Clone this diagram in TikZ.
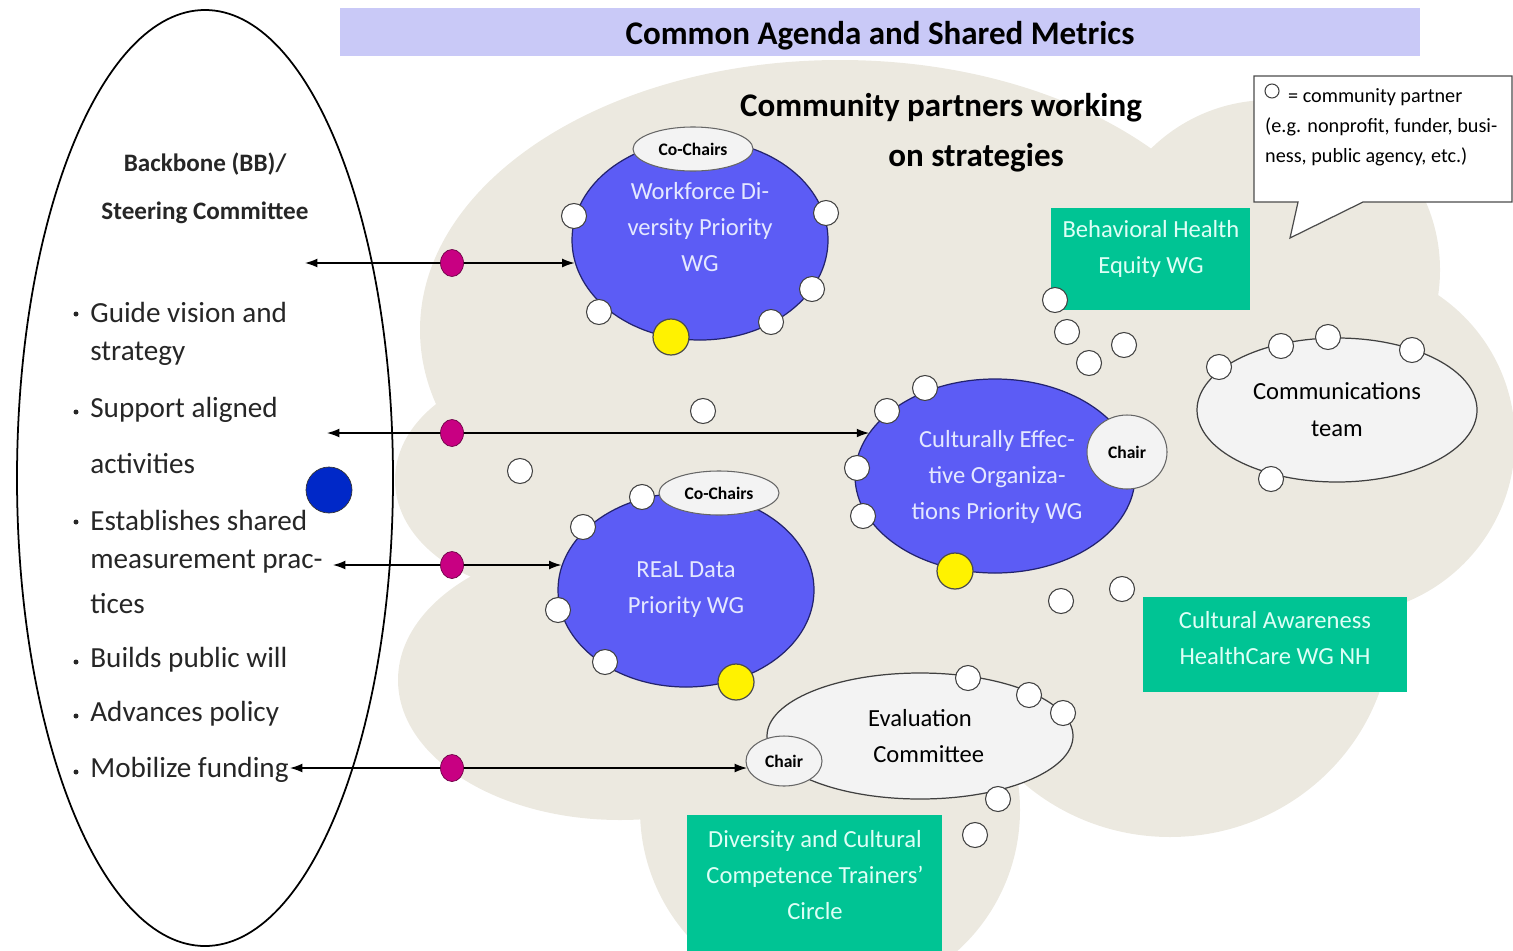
\documentclass[tikz,border=0pt]{standalone}
\usepackage{fontspec}
\setmainfont{Carlito}
\usetikzlibrary{shapes.geometric,arrows.meta}
\newcommand{\px}{0.02cm}
\definecolor{cloudbg}{RGB}{236,233,224}
\definecolor{agendabar}{RGB}{201,201,247}
\definecolor{wgblue}{RGB}{92,92,245}
\definecolor{wgline}{RGB}{35,35,110}
\definecolor{wgtext}{RGB}{228,232,255}
\definecolor{wggreen}{RGB}{0,196,148}
\definecolor{greentext}{RGB}{222,255,246}
\definecolor{chairgray}{RGB}{243,243,243}
\definecolor{linkmag}{RGB}{200,0,130}
\definecolor{linkmagline}{RGB}{110,0,70}
\definecolor{bbblue}{RGB}{0,40,200}
\tikzset{
  partner/.style={circle, draw=black!75, fill=white, line width=0.6pt, minimum size=25*\px, inner sep=0pt},
  leadpartner/.style={circle, draw=black!70, fill=yellow, line width=0.7pt, minimum size=36*\px, inner sep=0pt},
  linkdot/.style={ellipse, draw=linkmagline, fill=linkmag, minimum width=23*\px, minimum height=27*\px, inner sep=0pt},
  wgblob/.style={ellipse, draw=wgline, fill=wgblue, line width=0.7pt, inner sep=0pt},
  wglabel/.style={text=wgtext, align=center, font=\fontsize{14}{20.5}\selectfont},
  team/.style={ellipse, draw=black!75, fill=chairgray, line width=0.7pt, inner sep=0pt, align=center, font=\fontsize{14}{21}\selectfont},
  chair/.style={ellipse, draw=black!60, fill=chairgray, line width=0.6pt, inner sep=0pt, font=\bfseries\fontsize{10}{12}\selectfont},
  greenbox/.style={rectangle, fill=wggreen, inner sep=0pt},
  greenlabel/.style={text=greentext, align=center, font=\fontsize{14}{20.5}\selectfont},
  bullet/.style={anchor=west, inner sep=0pt, font=\fontsize{16.6}{19}\selectfont, text=black!85},
  bulletdot/.style={circle, fill=black!85, minimum size=5*\px, inner sep=0pt},
  headline/.style={font=\bfseries\fontsize{18.8}{22}\selectfont},
  link/.style={-{Latex[length=7pt,width=5pt]}, line width=0.7pt},
}
\begin{document}
\begin{tikzpicture}[x=0.02cm, y=-0.02cm]
		\useasboundingbox (0,0) rectangle (1513,950);
		% cloud of community partners
		\begin{scope}
		\clip (0,0) rectangle (1513,950);
		\fill[cloudbg] (840,330) ellipse [x radius=420*\px, y radius=270*\px];
		\fill[cloudbg] (560,480) ellipse [x radius=165*\px, y radius=115*\px];
		\fill[cloudbg] (620,680) ellipse [x radius=222*\px, y radius=140*\px];
		\fill[cloudbg] (850,560) ellipse [x radius=300*\px, y radius=200*\px];
		\fill[cloudbg] (830,810) circle [radius=190*\px];
		\fill[cloudbg] (1170,620) ellipse [x radius=222*\px, y radius=217*\px];
		\fill[cloudbg] (1340,440) circle [radius=175*\px];
		\fill[cloudbg] (1270,270) circle [radius=170*\px];
		\end{scope}
		\node[fill=agendabar, minimum width=1080*\px, minimum height=48*\px, inner sep=0pt] (agenda) at (880,32) {};
		\node[headline] (agendatext) at (880,36) {Common Agenda and Shared Metrics};
		% legend
		\draw[draw=black!70, fill=white, line width=0.7pt] (1254,76) -- (1512,76) -- (1512,202) -- (1363,202) -- (1290,238) -- (1298,202) -- (1254,202) -- cycle;
		\node[partner, minimum size=14*\px] (legendsym) at (1272,91) {};
		\node[anchor=west, font=\fontsize{11.5}{17}\selectfont] (legend1) at (1282,97) {= community partner};
		\node[anchor=west, align=left, font=\fontsize{11.5}{17}\selectfont] (legend2) at (1259,142) {(e.g. nonprofit, funder, busi-\\ness, public agency, etc.)};
		\node[headline] (cp1) at (941,108) {Community partners working};
		\node[headline] (cp2) at (976,158) {on strategies};
		% backbone
		\node[draw, ellipse, line width=1pt, minimum width=376*\px, minimum height=936*\px] (bb) at (205,478) {};
		\node[align=center, text=black!85, font=\bfseries\fontsize{14.3}{27.3}\selectfont] (bbtitle) at (205,188) {Backbone (BB)/\\Steering Committee};
		\node[bulletdot] (d1) at (76,314) {};
		\node[bullet] (b1) at (90,312) {Guide vision and};
		\node[bullet] (b1b) at (90,354) {strategy};
		\node[bulletdot] (d2) at (76,412) {};
		\node[bullet] (b2) at (90,410) {Support aligned};
		\node[bullet] (b2b) at (90,464) {activities};
		\node[bulletdot] (d3) at (76,522) {};
		\node[bullet] (b3) at (90,520) {Establishes shared};
		\node[bullet] (b3b) at (90,562) {measurement prac-};
		\node[bullet] (b3c) at (90,604) {tices};
		\node[bulletdot] (d4) at (76,662) {};
		\node[bullet] (b4) at (90,660) {Builds public will};
		\node[bulletdot] (d5) at (76,716) {};
		\node[bullet] (b5) at (90,714) {Advances policy};
		\node[bulletdot] (d6) at (76,772) {};
		\node[bullet] (b6) at (90,770) {Mobilize funding};
		\node[circle, draw=black!80, fill=bbblue, minimum size=46*\px, inner sep=0pt] (bbdot) at (329,490) {};
		% working groups
		\node[wgblob, minimum width=256*\px, minimum height=200*\px] (wf) at (700,240) {};
		\node[wgblob, minimum width=280*\px, minimum height=194*\px] (ce) at (995,476) {};
		\node[wgblob, minimum width=256*\px, minimum height=194*\px] (rd) at (686,590) {};
		\node[chair, minimum width=120*\px, minimum height=44*\px] (wfchairs) at (693,149) {Co-Chairs};
		\node[chair, minimum width=120*\px, minimum height=44*\px] (rdchairs) at (719,493) {Co-Chairs};
		\node[chair, minimum width=80*\px, minimum height=74*\px] (cechair) at (1127,452) {Chair};
		\node[wglabel] (wftext) at (700,227) {Workforce Di-\\versity Priority\\WG};
		\node[wglabel] (cetext) at (997,477) {Culturally Effec-\\tive Organiza-\\tions Priority WG};
		\node[wglabel] (rdtext) at (686,590) {REaL Data\\Priority WG};
		\node[team, minimum width=280*\px, minimum height=144*\px] (comms) at (1337,410) {Communications\\team};
		\node[team, minimum width=306*\px, minimum height=126*\px] (eval) at (920,736) {Evaluation\\\hspace*{10pt}Committee};
		\node[chair, minimum width=76*\px, minimum height=50*\px] (evalchair) at (784,761) {Chair};
		\node[greenbox, minimum width=199*\px, minimum height=102*\px] (bh) at (1150.5,259) {};
		\node[greenlabel] (bhtext) at (1151,249) {Behavioral Health\\Equity WG};
		\node[greenbox, minimum width=264*\px, minimum height=95*\px] (ca) at (1275,644.5) {};
		\node[greenlabel] (catext) at (1275,638) {Cultural Awareness\\HealthCare WG NH};
		\node[greenbox, minimum width=255*\px, minimum height=140*\px] (dc) at (814.5,885) {};
		\node[greenlabel] (dctext) at (815,875) {Diversity and Cultural\\Competence Trainers'\\Circle};
		% links between backbone and groups
		\coordinate (bb1) at (305,263);
		\coordinate (bb2) at (327,433);
		\coordinate (bb3) at (333,565);
		\coordinate (bb4) at (290,768);
		\node[linkdot] (m1) at (452,263) {};
		\node[linkdot] (m2) at (452,433) {};
		\node[linkdot] (m3) at (452,565) {};
		\node[linkdot] (m4) at (452,768) {};
		\draw[link] (m1) -- (bb1);
		\draw[link] (m1) -- (m1 -| wf.170);
		\draw[link] (m2) -- (bb2);
		\draw[link] (m2) -- (m2 -| ce.161);
		\draw[link] (m3) -- (bb3);
		\draw[link] (m3) -- (m3 -| rd.169);
		\draw[link] (m4) -- (bb4);
		\draw[link] (m4) -- (m4 -| evalchair.191);
		% community partners
		\node[partner] (wf1) at (574,216) {};
		\node[partner] (wf2) at (826,213) {};
		\node[partner] (wf3) at (812,289) {};
		\node[partner] (wf4) at (771,322) {};
		\node[partner] (wf5) at (599,312) {};
		\node[partner] (free1) at (703,411) {};
		\node[partner] (free2) at (520,471) {};
		\node[partner] (ce1) at (925,388) {};
		\node[partner] (ce2) at (887,411) {};
		\node[partner] (ce3) at (857,468) {};
		\node[partner] (ce4) at (863,516) {};
		\node[partner] (rd1) at (642,497) {};
		\node[partner] (rd2) at (583,527) {};
		\node[partner] (rd3) at (558,610) {};
		\node[partner] (rd4) at (605,662) {};
		\node[partner] (bh1) at (1055,300) {};
		\node[partner] (bh2) at (1067,332) {};
		\node[partner] (bh3) at (1089,363) {};
		\node[partner] (bh4) at (1124,345) {};
		\node[partner] (co1) at (1219,367) {};
		\node[partner] (co2) at (1281,346) {};
		\node[partner] (co3) at (1328,337) {};
		\node[partner] (co4) at (1412,350) {};
		\node[partner] (co5) at (1271,479) {};
		\node[partner] (ca1) at (1061,601) {};
		\node[partner] (ca2) at (1122,589) {};
		\node[partner] (ev1) at (968,678) {};
		\node[partner] (ev2) at (1029,695) {};
		\node[partner] (ev3) at (1063,713) {};
		\node[partner] (ev4) at (998,799) {};
		\node[partner] (free3) at (975,835) {};
		\node[leadpartner] (wflead) at (671,337) {};
		\node[leadpartner] (celead) at (955,571) {};
		\node[leadpartner] (rdlead) at (736,682) {};
\end{tikzpicture}
\end{document}
